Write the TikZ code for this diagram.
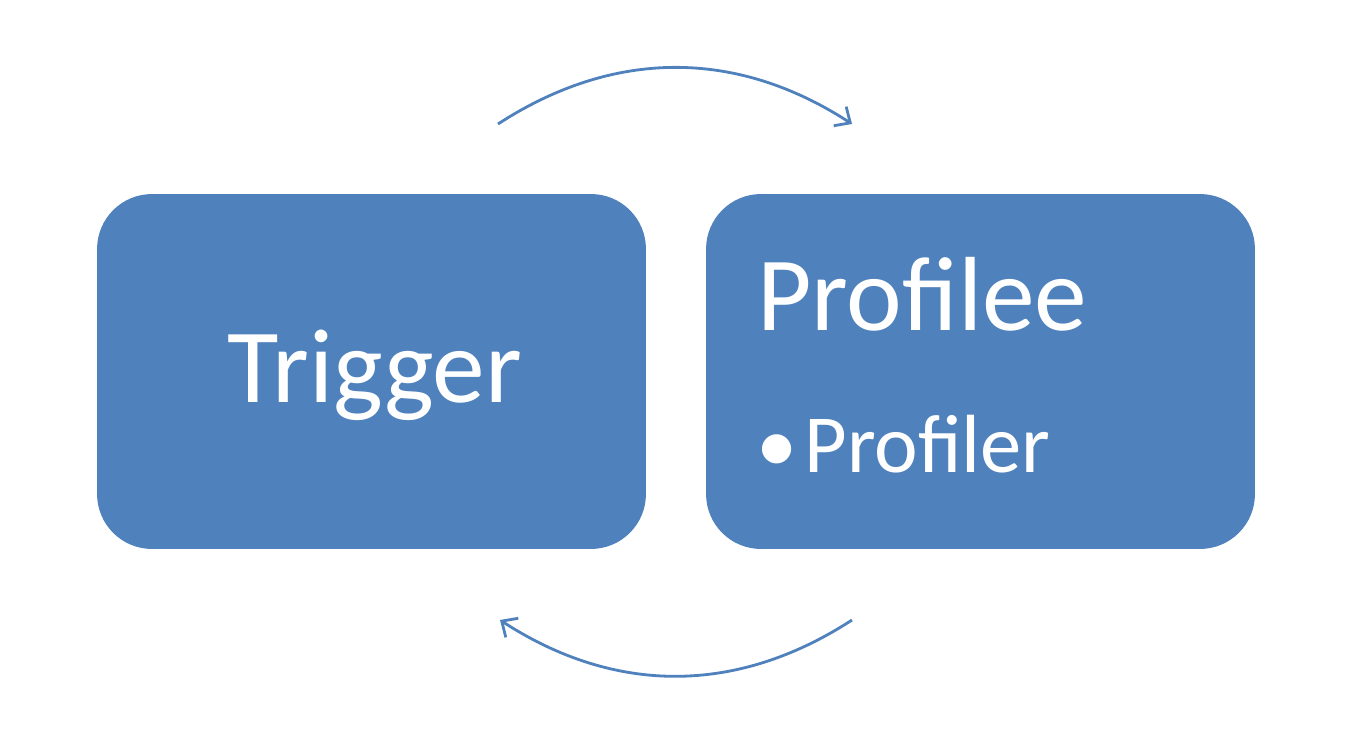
\documentclass[tikz,border=0pt]{standalone}
\usepackage{fontspec}
\setmainfont{Carlito}
\usetikzlibrary{arrows.meta}
\definecolor{officeblue}{HTML}{4F81BD}
\tikzset{
	box/.style={fill=officeblue,rounded corners=1.1cm,minimum width=10.98cm,minimum height=7.1cm,inner sep=0pt},
	big/.style={text=white,font=\fontsize{60}{72}\selectfont,inner sep=0pt},
	small/.style={text=white,font=\fontsize{47}{56}\selectfont,inner sep=0pt},
	cycle/.style={officeblue,line width=1.6pt,-{Straight Barb[length=7pt,width=13pt,line width=1.6pt]}}
}
\begin{document}
\begin{tikzpicture}[x=0.02cm,y=-0.02cm]
		\useasboundingbox (0,0) rectangle (1352,744);
		\node[box] (trigger) at (371.5,371.5) {};
		\node[box] (profilee) at (980.5,371.5) {};
		\node[big,anchor=base] (triggertext) at (375,402) {Trigger};
		\node[big,anchor=base west] (profileetext) at (757,330) {Profilee};
		\node[small,anchor=base west] (profilertext) at (804,472) {Profiler};
		\node[small,anchor=base west] (bullet) at (756,472) {•};
		\coordinate (topstart) at (498,124);
		\coordinate (topend) at (852,124);
		\coordinate (botstart) at (852,620);
		\coordinate (botend) at (500,620);
		\draw[cycle] (topstart) to[bend left=33] (topend);
		\draw[cycle] (botstart) to[bend left=33] (botend);
	\end{tikzpicture}
\end{document}
